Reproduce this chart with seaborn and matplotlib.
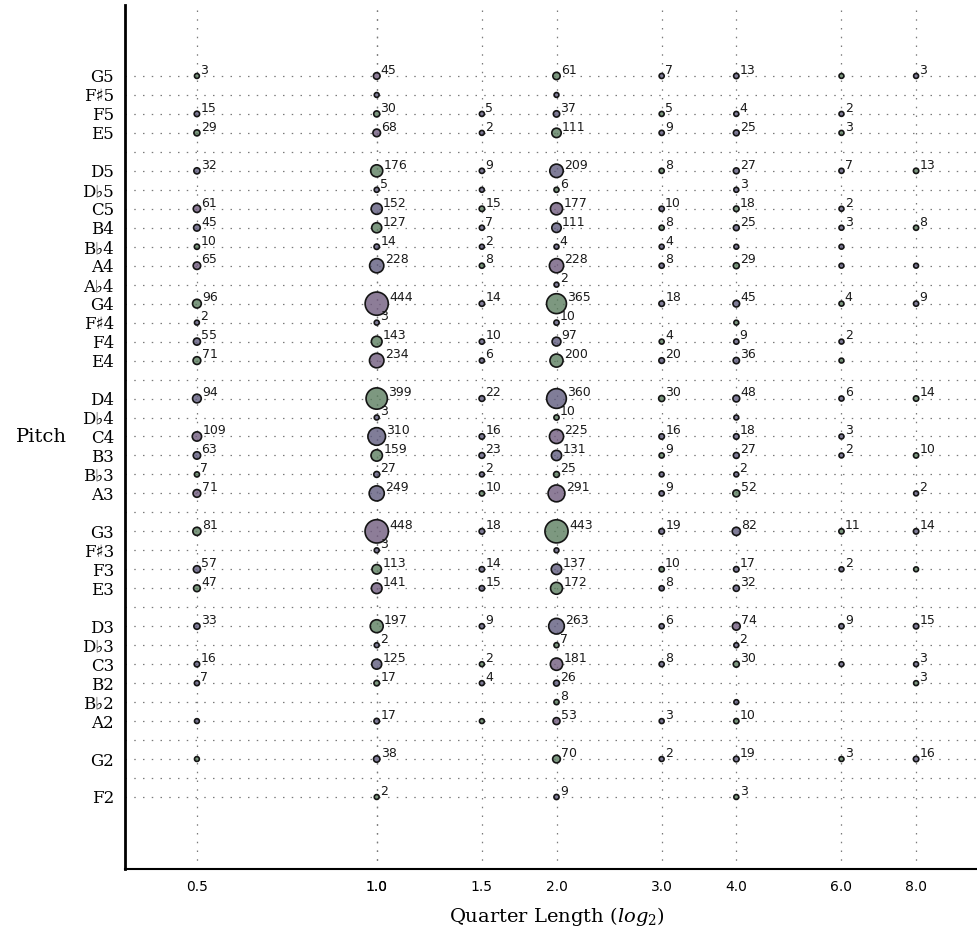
import numpy as np
import pandas as pd
import matplotlib
matplotlib.use("Agg")
import matplotlib.pyplot as plt
import seaborn as sns

# Pitch rows, top to bottom
pitch_names = ["G5", "F♯5", "F5", "E5", "D5", "D♭5", "C5", "B4", "B♭4", "A4", "A♭4",
               "G4", "F♯4", "F4", "E4", "D4", "D♭4", "C4", "B3", "B♭3", "A3", "G3",
               "F♯3", "F3", "E3", "D3", "D♭3", "C3", "B2", "B♭2", "A2", "G2", "F2"]
pitch_midi = [79, 78, 77, 76, 74, 73, 72, 71, 70, 69, 68,
              67, 66, 65, 64, 62, 61, 60, 59, 58, 57, 55,
              54, 53, 52, 50, 49, 48, 47, 46, 45, 43, 41]

# Quarter lengths (columns)
durations = [0.5, 1.0, 1.5, 2.0, 3.0, 4.0, 6.0, 8.0]

# Note counts per quarter length, aligned with pitch_names (0 = no notes)
counts_q05 = [3, 0, 15, 29, 32, 0, 61, 45, 10, 65, 0, 96, 2, 55, 71, 94, 0, 109, 63, 7, 71, 81,
              0, 57, 47, 33, 0, 16, 7, 0, 1, 1, 0]
counts_q10 = [45, 1, 30, 68, 176, 5, 152, 127, 14, 228, 0, 444, 3, 143, 234, 399, 3, 310, 159, 27, 249, 448,
              3, 113, 141, 197, 2, 125, 17, 0, 17, 38, 2]
counts_q15 = [0, 0, 5, 2, 9, 1, 15, 7, 2, 8, 0, 14, 0, 10, 6, 22, 0, 16, 23, 2, 10, 18,
              0, 14, 15, 9, 0, 2, 4, 0, 1, 0, 0]
counts_q20 = [61, 1, 37, 111, 209, 6, 177, 111, 4, 228, 2, 365, 10, 97, 200, 360, 10, 225, 131, 25, 291, 443,
              1, 137, 172, 263, 7, 181, 26, 8, 53, 70, 9]
counts_q30 = [7, 0, 5, 9, 8, 0, 10, 8, 4, 8, 0, 18, 0, 4, 20, 30, 0, 16, 9, 1, 9, 19,
              0, 10, 8, 6, 0, 8, 0, 0, 3, 2, 0]
counts_q40 = [13, 0, 4, 25, 27, 3, 18, 25, 1, 29, 0, 45, 1, 9, 36, 48, 1, 18, 27, 2, 52, 82,
              0, 17, 32, 74, 2, 30, 0, 1, 10, 19, 3]
counts_q60 = [1, 0, 2, 3, 7, 0, 2, 3, 1, 1, 0, 4, 0, 2, 1, 6, 0, 3, 2, 0, 0, 11,
              0, 2, 0, 9, 0, 1, 0, 0, 0, 3, 0]
counts_q80 = [3, 0, 0, 0, 13, 0, 0, 8, 0, 1, 0, 9, 0, 0, 0, 14, 0, 0, 10, 0, 2, 14,
              0, 1, 0, 15, 0, 3, 3, 0, 0, 16, 0]
all_counts = [counts_q05, counts_q10, counts_q15, counts_q20,
              counts_q30, counts_q40, counts_q60, counts_q80]

# Dot colour keys (b = slate blue, g = green, p = purple)
tones_q05 = list("g-bgb-pbgp-gbbgb-pbgpg-bgb-bb-bg-")
tones_q10 = list("pbgpgbbgbb-pbgpgbbgbbpbgpgbbg-bbg")
tones_q15 = list("--bbbbgbbg-b-bbb-bbbgb-bbb-gb-g--")
tones_q20 = list("gbbgbgpbbpbgbbgbgpbgpgbbgbgpbgpgb")
tones_q30 = list("b-gbg-bgbb-b-gbg-bgbbb-gbb-b--bb-")
tones_q40 = list("b-bbbbgbbg-bgbbbbbbbgb-bbpbg-bgbg")
tones_q60 = list("g-bgb-bbbb-g-bgb-bb--g-b-b-b---g-")
tones_q80 = list("b---g--g-b-b---g--g-bb-g-b-bg--b-")
all_tones = [tones_q05, tones_q10, tones_q15, tones_q20,
             tones_q30, tones_q40, tones_q60, tones_q80]

# x tick labels (quarter length 0 sits at log2 position 0, with 1.0)
tick_qlens = [0.5, 0.0, 1.0, 1.5, 2.0, 3.0, 4.0, 6.0, 8.0]

palette = {"b": "#605c7f", "g": "#5c7f60", "p": "#715c7f"}

rows = []
for q, counts, tones in zip(durations, all_counts, all_tones):
    assert len(counts) == len(pitch_midi) == len(tones)
    for midi, c, t in zip(pitch_midi, counts, tones):
        if c > 0:
            rows.append({"qlog": np.log2(q), "midi": midi, "count": c, "tone": t})
df = pd.DataFrame(rows)

# dot diameter grows linearly with the count
DPI = 100
d_min_px, d_max_px = 6.5, 25.0
cmin, cmax = df["count"].min(), df["count"].max()
df["diam_pt"] = (d_min_px + (df["count"] - cmin) / (cmax - cmin) * (d_max_px - d_min_px)) * 72 / DPI
edge_lw = 1.2
df["area"] = (df["diam_pt"] - edge_lw) ** 2

sns.set_style("white")
plt.rcParams["mathtext.fontset"] = "dejavuserif"
plt.rcParams["text.color"] = "black"
plt.rcParams["axes.labelcolor"] = "black"
plt.rcParams["xtick.color"] = "black"
plt.rcParams["ytick.color"] = "black"

fig = plt.figure(figsize=(977 / DPI, 936 / DPI), dpi=DPI)
W, H = 977, 936
ax_left, ax_right, ax_top, ax_bottom = 125, 988, 5, 869
ax = fig.add_axes([ax_left / W, (H - ax_bottom) / H, (ax_right - ax_left) / W, (ax_bottom - ax_top) / H])

rgba_palette = {k: matplotlib.colors.to_rgba(v, 0.8) for k, v in palette.items()}
amin, amax = df["area"].min(), df["area"].max()
sns.scatterplot(data=df, x="qlog", y="midi", hue="tone", palette=rgba_palette,
                size="area", sizes=(amin, amax), size_norm=(amin, amax),
                edgecolor="#141414", linewidth=edge_lw, legend=False, ax=ax, zorder=3)

for _, r in df.iterrows():
    if r["count"] > 1:
        r_px = r["diam_pt"] / 2 * DPI / 72
        ax.annotate(str(int(r["count"])), (r["qlog"], r["midi"]),
                    xytext=(r_px * 72 / DPI, 1.6), textcoords="offset points",
                    ha="left", va="baseline", fontsize=9, color="#1a1a1a",
                    family="DejaVu Sans", zorder=4)

ax.set_xlim(-1.4, 3.4)
ax.set_ylim(37.205, 82.74)

tick_pos = [np.log2(q) if q > 0 else 0.0 for q in tick_qlens]
ax.set_xticks(tick_pos)
ax.set_xticklabels([f"{q:.1f}" for q in tick_qlens], fontsize=10, family="DejaVu Sans")

name_by_midi = dict(zip(pitch_midi, pitch_names))
yt = list(range(min(pitch_midi), max(pitch_midi) + 1))
ax.set_yticks(yt)
ax.set_yticklabels([name_by_midi.get(m, "") for m in yt], fontsize=12,
                   family=["DejaVu Serif", "DejaVu Sans"])

ax.tick_params(axis="both", direction="in", length=7, width=1, color="black")
ax.tick_params(axis="y", pad=8)
ax.tick_params(axis="x", pad=8)

ax.grid(True, color="#7a7a7a", linestyle=(0, (1.2, 5.8)), linewidth=0.9, zorder=0)
ax.set_axisbelow(True)

for s in ["top", "right"]:
    ax.spines[s].set_visible(False)
ax.spines["left"].set_linewidth(2.0)
ax.spines["left"].set_color("black")
ax.spines["bottom"].set_linewidth(1.5)
ax.spines["bottom"].set_color("black")

ax.set_xlabel("Quarter Length ($log_2$)", fontsize=14, family="DejaVu Serif")
ax.set_ylabel("Pitch", fontsize=14, family="DejaVu Serif", rotation=0, ha="right", va="center")
ax.yaxis.set_label_coords((67 - ax_left) / (ax_right - ax_left), 0.5)
ax.xaxis.set_label_coords(0.5, -(917 - ax_bottom) / (ax_bottom - ax_top))
ax.xaxis.label.set_va("center")

fig.savefig("out.png", dpi=DPI)
